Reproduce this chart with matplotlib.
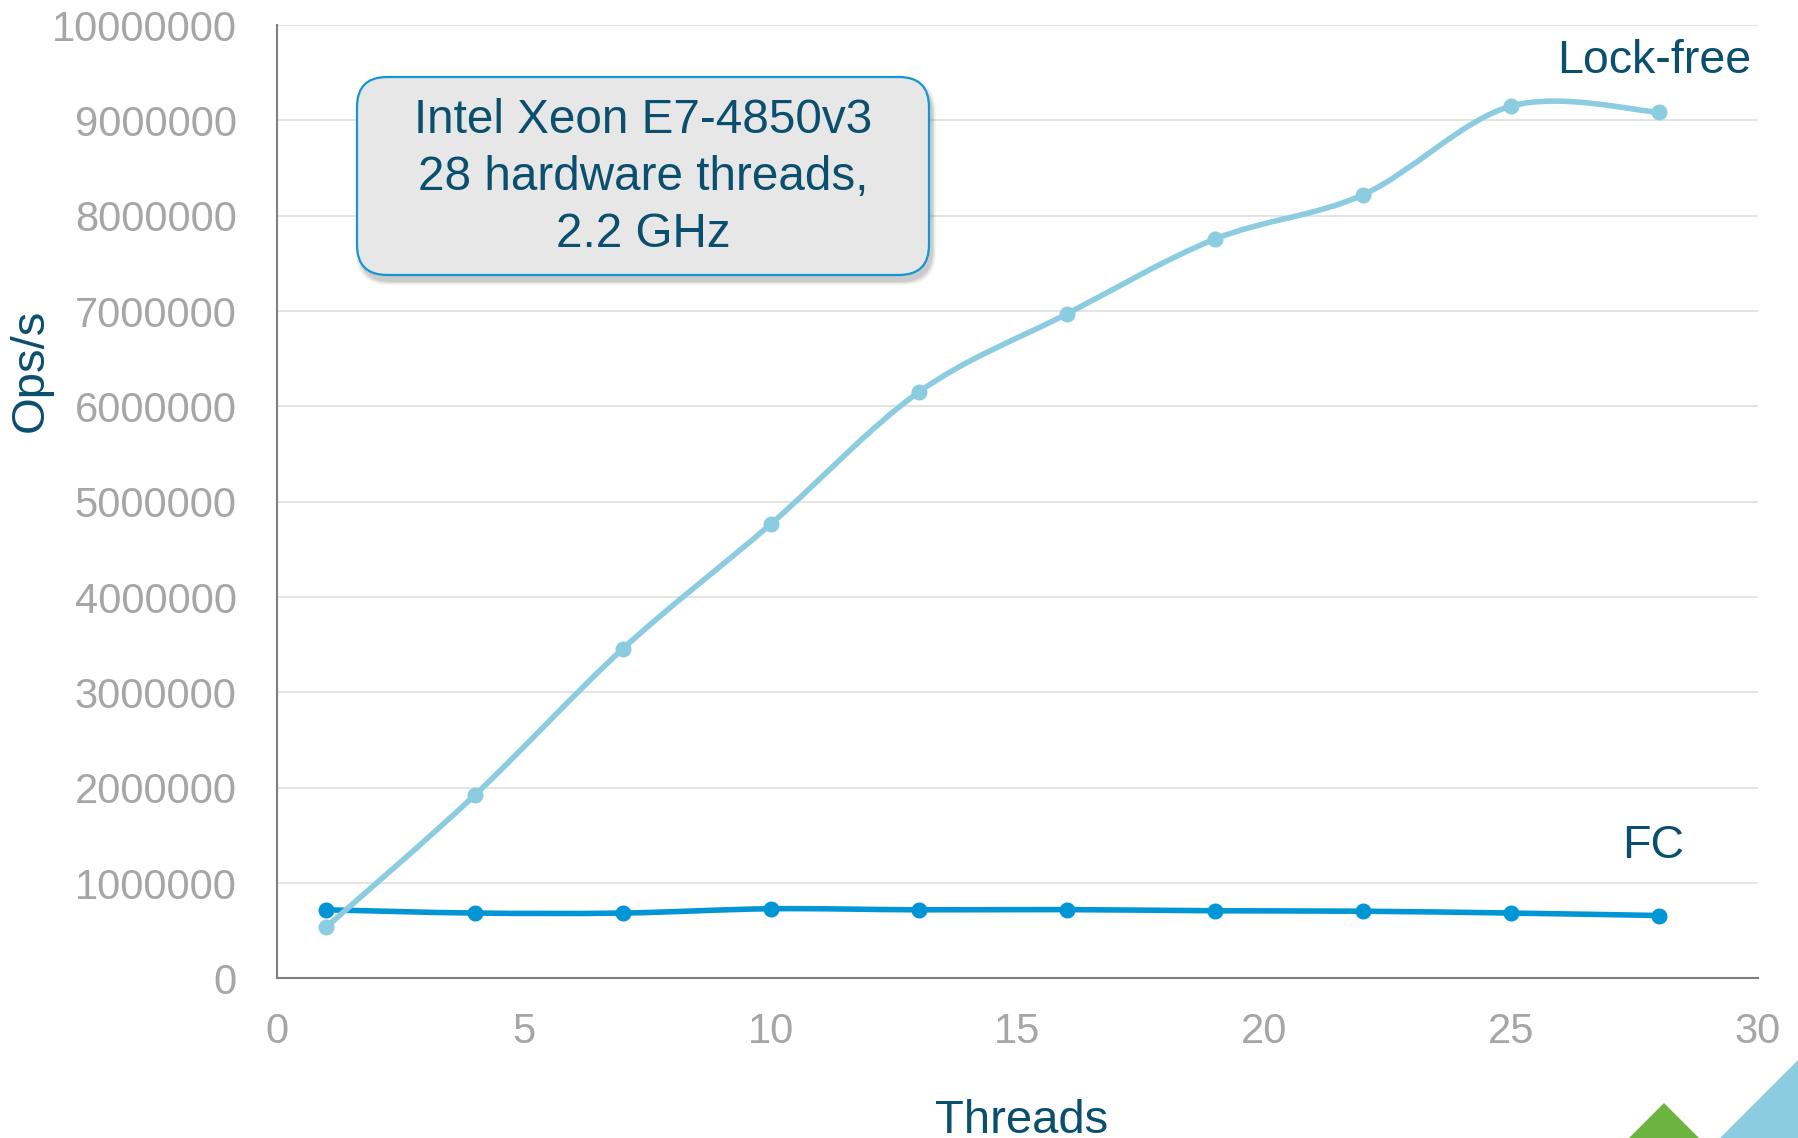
import numpy as np
import matplotlib.pyplot as plt
from matplotlib.path import Path
from matplotlib.patches import PathPatch, FancyBboxPatch, Polygon

plt.rcParams['font.family'] = ['Liberation Sans', 'DejaVu Sans']

# Throughput measurements (ops per second) by thread count
threads = [1, 4, 7, 10, 13, 16, 19, 22, 25, 28]
lock_free = [540000, 1920000, 3455000, 4765000, 6150000,
             6970000, 7755000, 8220000, 9150000, 9085000]
fc = [720000, 686000, 686000, 731000, 720000,
      722000, 710000, 705000, 686000, 660000]

x_ticks = [0, 5, 10, 15, 20, 25, 30]
y_ticks = list(range(0, 10000001, 1000000))
y_tick_labels = [str(v) for v in y_ticks]

cpu_note = "Intel Xeon E7-4850v3\n28 hardware threads,\n2.2 GHz"

TEXT = '#0B4F6E'
GREY = '#A6A6A6'
LIGHT = '#8BCCE0'
DARK = '#0096D6'


def smooth_path(xs, ys):
    # Bezier curve through the points, like spreadsheet "smoothed line"
    pts = np.column_stack([xs, ys]).astype(float)
    padded = np.vstack([pts[0], pts, pts[-1]])
    verts = [pts[0]]
    codes = [Path.MOVETO]
    for i in range(len(pts) - 1):
        c1 = pts[i] + (padded[i + 2] - padded[i]) / 6
        c2 = pts[i + 1] - (padded[i + 3] - padded[i + 1]) / 6
        verts += [c1, c2, pts[i + 1]]
        codes += [Path.CURVE4] * 3
    return Path(verts, codes)


fig = plt.figure(figsize=(17.99, 11.38), dpi=100)
ax = fig.add_axes([0.1540, 0.1402, 0.8232, 0.8378])

ax.set_xlim(0, 30)
ax.set_ylim(0, 10000000)
ax.set_xticks(x_ticks)
ax.set_yticks(y_ticks)
ax.set_yticklabels(y_tick_labels)
ax.tick_params(length=0, labelsize=30, labelcolor=GREY)
ax.tick_params(axis='x', pad=24)
ax.tick_params(axis='y', pad=29)

ax.grid(axis='y', color='#E4E4E4', lw=1.4)
ax.set_axisbelow(True)
for side in ['top', 'right']:
    ax.spines[side].set_visible(False)
for side in ['left', 'bottom']:
    ax.spines[side].set_color('#7F7F7F')
    ax.spines[side].set_linewidth(1.5)

# FC first, lock-free drawn over it
for ys, color in [(fc, DARK), (lock_free, LIGHT)]:
    ax.add_patch(PathPatch(smooth_path(threads, ys), fill=False,
                           edgecolor=color, lw=4.0, capstyle='round',
                           joinstyle='round', zorder=3))
    ax.plot(threads, ys, ls='none', marker='o', ms=10.5, color=color, zorder=4)

fig.text(1654 / 1799, 1 - 73 / 1138, 'Lock-free', ha='center', va='baseline',
         fontsize=33.5, color=TEXT)
fig.text(1653 / 1799, 1 - 858 / 1138, 'FC', ha='center', va='baseline',
         fontsize=33.5, color=TEXT)

fig.text(1022 / 1799, 1 - 1133 / 1138, 'Threads', ha='center', va='baseline',
         fontsize=34, color=TEXT)
fig.text(31 / 1799, 1 - 370 / 1138, 'Ops/s', ha='center', va='center',
         rotation=90, fontsize=34, color=TEXT)

# overlay in pixel coordinates for the note box and corner shapes
over = fig.add_axes([0, 0, 1, 1], zorder=5)
over.set_xlim(0, 1799)
over.set_ylim(1138, 0)
over.axis('off')
over.patch.set_visible(False)

bx, by, bw, bh = 357, 77, 572, 198
for k, a in enumerate([0.05, 0.07, 0.09, 0.12]):
    grow = 4 - k
    over.add_patch(FancyBboxPatch((bx + 3 - grow, by + 6 - grow),
                                  bw + 2 * grow, bh + 2 * grow,
                                  boxstyle='round,pad=0,rounding_size=32',
                                  fc='#555555', ec='none', alpha=a))
over.add_patch(FancyBboxPatch((bx, by), bw, bh,
                              boxstyle='round,pad=0,rounding_size=30',
                              fc='#E7E7E7', ec='#1496D2', lw=1.6))
for i, line in enumerate(cpu_note.split('\n')):
    over.text(bx + bw / 2, 133 + 57 * i, line, ha='center', va='baseline',
              fontsize=34.3, color=TEXT)

over.add_patch(Polygon([(1664, 1103), (1600, 1167), (1728, 1167)],
                       closed=True, fc='#6DB33F', ec='none'))
over.add_patch(Polygon([(1715, 1143), (1804, 1054), (1804, 1143)],
                       closed=True, fc=LIGHT, ec='none'))

fig.savefig('out.png', dpi=100)
